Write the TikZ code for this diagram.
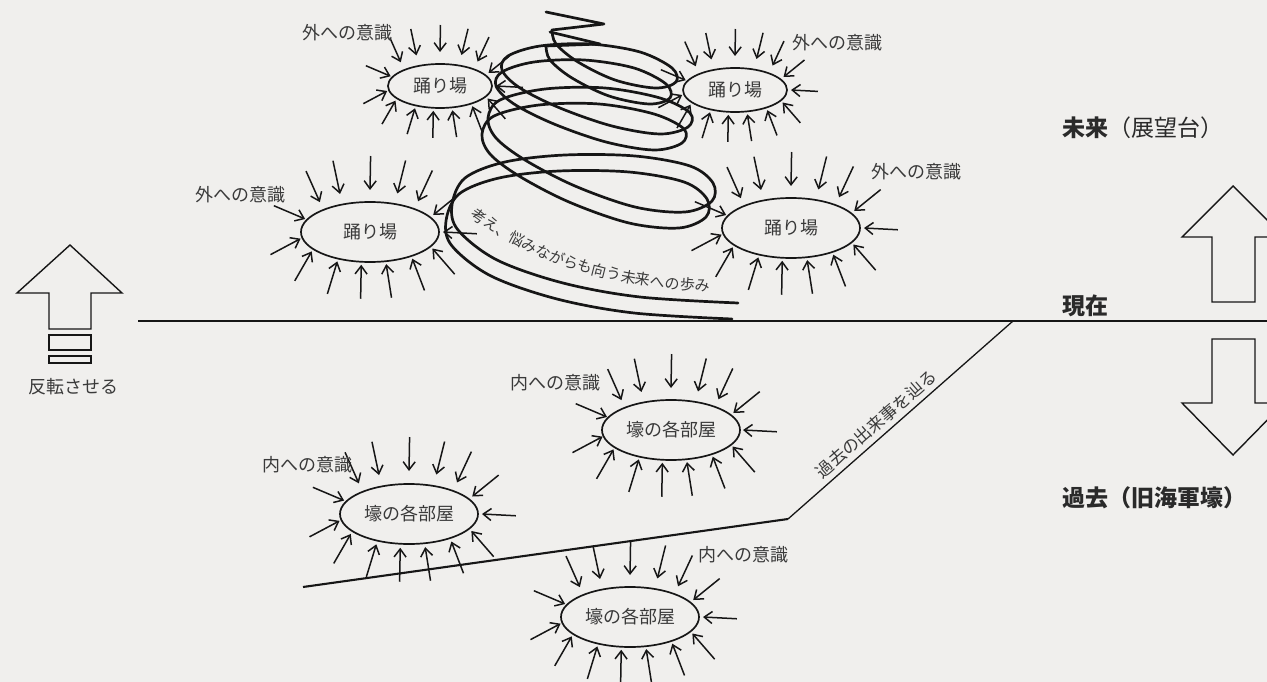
\documentclass[tikz,border=0pt]{standalone}
\usepackage{fontspec}
\newfontfamily\cjk{Noto Sans CJK JP}
\usetikzlibrary{shapes.geometric,arrows.meta,calc,decorations.text}
\definecolor{bg}{HTML}{F0EFED}
\definecolor{ink}{HTML}{161616}
\definecolor{txt}{HTML}{3A3A3A}
\definecolor{dtxt}{HTML}{2A2A2A}
\newcommand\rays[4]{%
  \foreach \t/\p/\g in {230/246/9,248/258/11,270/271/12,290/284/11,308/295/9,330/321/4,0/3/4,30/49/3,54/69/3,77/81/3,97/91/3,117/107/3,144/120/3,168/152/2,204/203/2}{%
    \draw[ray] ($(#1)+({(#2+\g)*cos(\t)+#4*cos(\p)},{(#3+\g)*sin(\t)+#4*sin(\p)})$) -- ($(#1)+({(#2+\g)*cos(\t)},{(#3+\g)*sin(\t)})$);
  }}
\begin{document}
\begin{tikzpicture}[x=1pt,y=-1pt,
  room/.style={ellipse, draw=ink, line width=1.7pt, inner sep=0pt, font=\cjk\fontsize{18}{18}\selectfont, text=txt},
  smallroom/.style={room, minimum width=104pt, minimum height=44pt},
  bigroom/.style={room, minimum width=138pt, minimum height=60pt},
  ray/.style={draw=ink, line width=1.5pt, -{Straight Barb[length=8pt,width=12pt,line width=1.5pt]}},
  lab/.style={font=\cjk\fontsize{18}{18}\selectfont, text=txt, inner sep=0pt},
  side/.style={font=\cjk\fontsize{23}{23}\selectfont, text=dtxt, inner sep=0pt, anchor=west},
  bigarrow/.style={draw=ink, line width=1.4pt, line join=miter},
  spiral/.style={draw=ink, line width=2.7pt, line cap=round, line join=round},
  plain/.style={draw=ink, line width=1.5pt}
]
\fill[bg] (0,0) rectangle (1267,682);
\useasboundingbox (0,0) rectangle (1267,682);
\clip (0,0) rectangle (1267,682);

% main lines
\coordinate (pl) at (138,321);
\coordinate (pr) at (1267,321);
\coordinate (d1) at (1013,321);
\coordinate (d2) at (788,519);
\coordinate (d3) at (303,587);
\draw[plain] (pl) -- (pr);
\draw[plain, line width=1.3pt] (d1) -- (d2);
\draw[plain, line width=2.1pt] (d2) -- (d3);
\node[lab, font=\cjk\fontsize{17}{17}\selectfont, rotate=41] (trace) at (876,424) {過去の出来事を辿る};

% rooms
\node[smallroom] (A) at (440,86) {踊り場};
\node[smallroom] (B) at (735,90) {踊り場};
\node[bigroom] (C) at (370,232) {踊り場};
\node[bigroom] (D) at (791,228) {踊り場};
\node[bigroom] (E) at (671,430) {壕の各部屋};
\node[bigroom] (F) at (409,514) {壕の各部屋};
\node[bigroom] (G) at (630,617) {壕の各部屋};
\rays{A}{52}{22}{27}
\rays{B}{52}{22}{27}
\rays{C}{69}{30}{34}
\rays{D}{69}{30}{34}
\rays{E}{68}{30}{34}
\rays{F}{69}{31}{34}
\rays{G}{69}{30}{34}

\node[lab] (la) at (347,33) {外への意識};
\node[lab] (lb) at (837,43) {外への意識};
\node[lab] (lc) at (240,195) {外への意識};
\node[lab] (ld) at (916,172) {外への意識};
\node[lab] (le) at (555,383) {内への意識};
\node[lab] (lf) at (307,465) {内への意識};
\node[lab] (lg) at (743,555) {内への意識};

% spiral
\foreach \dx/\dy in {0/0,-6/16}{
\draw[spiral, shift={(\dx,\dy)}] plot[smooth, tension=0.55] coordinates {(738,303) (640,297) (563,283) (497,260) (458,230) (452,205) (465,178) (505,162) (565,155) (635,156) (690,166) (713,183) (712,201) (685,212) (635,207) (575,186) (525,160) (496,138) (488,118) (500,100) (545,89) (605,88) (660,98) (690,113) (688,127) (660,134) (612,126) (560,108) (520,88) (502,70) (508,56) (540,46) (590,44) (640,52) (672,68) (676,82) (655,88) (615,80) (578,62) (556,44) (552,30)};
}
\draw[spiral] (552,30) -- (604,24) -- (546,12);
\draw[spiral] (546,46) -- (600,44) -- (550,32);

\path[decorate, decoration={text along path, text align=left,
  text={|\cjk\fontsize{15}{15}\selectfont\color{txt}|考え、悩みながらも向う未来への歩み}}]
  (470,216) .. controls (530,262) and (610,288) .. (718,292);

% right side
\node[side] (future) at (1062,128) {\bfseries 未来\mdseries（展望台）};
\node[side] (now) at (1062,306) {\bfseries 現在};
\node[side] (past) at (1062,498) {\bfseries 過去（旧海軍壕）};
\draw[bigarrow] (1212,302) -- (1212,237) -- (1182,237) -- (1233,186) -- (1284,237) -- (1255,237) -- (1255,302) -- cycle;
\draw[bigarrow] (1212,339) -- (1255,339) -- (1255,403) -- (1284,403) -- (1233,455) -- (1182,403) -- (1212,403) -- cycle;

% left arrow
\draw[bigarrow] (49,329) -- (49,293) -- (17,293) -- (70,245) -- (122,293) -- (91,293) -- (91,329) -- cycle;
\draw[bigarrow] (49,335) rectangle (91,350);
\draw[bigarrow] (49,356) rectangle (91,363);
\node[font=\cjk\fontsize{18}{18}\selectfont, text=txt] (flip) at (73,387) {反転させる};
\end{tikzpicture}
\end{document}
